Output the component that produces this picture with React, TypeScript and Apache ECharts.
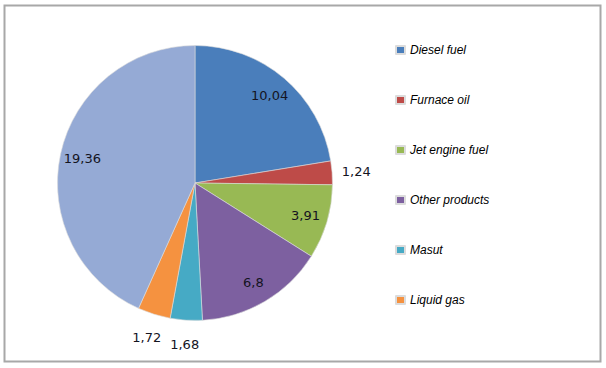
import React, { useEffect, useRef } from "react";
import * as echarts from "echarts";

const categories = ["Diesel fuel", "Furnace oil", "Jet engine fuel", "Other products", "Masut", "Liquid gas", ""];
const values = [10.04, 1.24, 3.91, 6.8, 1.68, 1.72, 19.36];
const colors = ["#4a7ebb", "#be4b48", "#98b954", "#7d60a0", "#46aac5", "#f59240", "#95aad5"];
const legendNames = ["Diesel fuel", "Furnace oil", "Jet engine fuel", "Other products", "Masut", "Liquid gas"];
const insideLabelIdx = [0, 2, 3, 6];

export default function App() {
  const ref = useRef<HTMLDivElement>(null);
  useEffect(() => {
    document.body.style.margin = "0";
    const chart = echarts.init(ref.current!, null, { renderer: "svg" });
    const fmt = (p: any) => String(p.value).replace(".", ",");
    const baseData = categories.map((c, i) => ({
      name: c,
      value: values[i],
      itemStyle: { color: colors[i] },
    }));
    const labelStyle = {
      color: "#14141f",
      fontFamily: "DejaVu Sans",
      fontSize: 13,
      formatter: fmt,
    };
    chart.setOption({
      animation: false,
      graphic: [
        {
          type: "rect",
          shape: { x: 4.5, y: 5.5, width: 596, height: 356 },
          style: { fill: "none", stroke: "#a8a8a8", lineWidth: 2 },
          z: 0,
        },
      ],
      legend: {
        orient: "vertical",
        left: 395,
        top: 44,
        padding: 0,
        itemWidth: 9,
        itemHeight: 8,
        itemGap: 38,
        icon: "rect",
        data: legendNames,
        textStyle: {
          fontFamily: "Liberation Sans",
          fontStyle: "italic",
          fontSize: 12,
          color: "#000",
        },
      },
      series: [
        {
          type: "pie",
          center: [195, 183],
          radius: 137.5,
          startAngle: 90,
          clockwise: true,
          avoidLabelOverlap: false,
          label: { show: false },
          labelLine: { show: false },
          itemStyle: { borderColor: "#dcdcdc", borderWidth: 0.6 },
          data: baseData,
        },
        {
          type: "pie",
          center: [195, 183],
          radius: [87, 137.5],
          startAngle: 90,
          clockwise: true,
          silent: true,
          avoidLabelOverlap: false,
          labelLine: { show: false },
          itemStyle: { color: "transparent" },
          data: categories.map((c, i) => ({
            name: c + "_in",
            value: values[i],
            itemStyle: { color: "transparent" },
            label: { show: insideLabelIdx.includes(i), position: "inside", ...labelStyle },
          })),
        },
        {
          type: "pie",
          center: [195, 183],
          radius: [137.5, 180],
          startAngle: 90,
          clockwise: true,
          silent: true,
          avoidLabelOverlap: false,
          labelLine: { show: false },
          itemStyle: { color: "transparent" },
          data: categories.map((c, i) => ({
            name: c + "_out",
            value: values[i],
            itemStyle: { color: "transparent" },
            label: { show: !insideLabelIdx.includes(i), position: "inside", ...labelStyle },
          })),
        },
      ],
    });
    return () => chart.dispose();
  }, []);
  return <div ref={ref} style={{ width: 606, height: 368 }} />;
}
